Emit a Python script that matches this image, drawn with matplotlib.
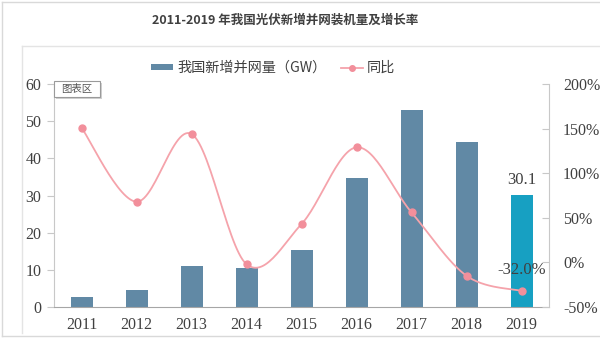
import numpy as np
import matplotlib
matplotlib.use("Agg")
import matplotlib.pyplot as plt
from matplotlib.lines import Line2D
from matplotlib.patches import Rectangle, Patch
from matplotlib.ticker import FuncFormatter, MultipleLocator

plt.rcParams['font.family'] = ['Noto Sans CJK SC', 'DejaVu Sans']

# ---- data ----
years = ['2011', '2012', '2013', '2014', '2015', '2016', '2017', '2018', '2019']
capacity_gw = [2.7, 4.7, 11.0, 10.6, 15.3, 34.6, 53.1, 44.4, 30.1]
yoy_pct = [151, 68, 144, -2, 43, 129, 56, -15, -32.0]

title = '2011-2019 年我国光伏新增并网装机量及增长率'
bar_label = '我国新增并网量（GW）'
line_label = '同比'

bar_color = '#6189a5'
last_bar_color = '#17a0c2'
line_color = '#f5a3ab'
marker_color = '#f28f9b'
text_color = '#404040'
serif = ['Liberation Serif', 'DejaVu Serif']

W, H = 600, 339
fig = plt.figure(figsize=(W / 100, H / 100), dpi=100)
fig.patch.set_facecolor('white')

# frame lines of the chart area
def fline(x0, y0, x1, y1, c='#d9d9d9', lw=1.0):
    fig.add_artist(Line2D([x0 / W, x1 / W], [1 - y0 / H, 1 - y1 / H],
                          color=c, lw=lw, transform=fig.transFigure))

fline(2, 2, 600, 2)
fline(2, 2, 2, 336)
fline(2, 336, 600, 336)
fline(22, 46, 600, 46, c='#e4e4e4')
fline(22, 46, 22, 333, c='#e4e4e4')

fig.text(285 / W, 1 - 20 / H, title, ha='center', va='center',
         fontsize=9, color=text_color, fontweight='bold')

ax = fig.add_axes([54 / W, 1 - 307 / H, (549 - 54) / W, (307 - 84) / H])
ax.set_facecolor('none')
x = np.arange(len(years))
colors = [bar_color] * (len(years) - 1) + [last_bar_color]
ax.bar(x, capacity_gw, width=0.4, color=colors, zorder=2)
ax.set_xlim(-0.5, len(years) - 0.5)
ax.set_ylim(0, 60)
ax.yaxis.set_major_locator(MultipleLocator(10))
ax.set_xticks(x)
ax.set_xticklabels(years)
for s in ['top', 'right']:
    ax.spines[s].set_visible(False)
ax.spines['left'].set_color('#c8c8c8')
ax.spines['bottom'].set_color('#a6a6a6')
ax.tick_params(axis='y', direction='out', length=5, color='#c8c8c8',
               labelsize=11.5, labelcolor=text_color, pad=4)
ax.tick_params(axis='x', length=0, labelsize=11.5, labelcolor=text_color, pad=7)
for lab in ax.get_xticklabels() + ax.get_yticklabels():
    lab.set_family(serif)

ax.text(x[-1], capacity_gw[-1] + 2.0, f'{capacity_gw[-1]:.1f}', ha='center',
        va='bottom', fontsize=12, color=text_color, family=serif)

# growth rate on the secondary axis, drawn as a smoothed curve
ax2 = ax.twinx()
ax2.set_ylim(-50, 200)
ax2.yaxis.set_major_locator(MultipleLocator(50))
ax2.yaxis.set_major_formatter(FuncFormatter(lambda v, p: f'{v:.0f}%'))
for s in ['top', 'left', 'bottom']:
    ax2.spines[s].set_visible(False)
ax2.spines['right'].set_color('#c8c8c8')
ax2.tick_params(axis='y', direction='in', length=5, color='#c8c8c8',
                labelsize=11.5, labelcolor=text_color, pad=10)
for lab in ax2.get_yticklabels():
    lab.set_family(serif)

sx, sy = 54.7, 223 / 250.0  # pixel scale per unit on each axis
px = x * sx
py = np.array(yoy_pct) * sy
P = np.column_stack([px, py])
Pp = np.vstack([P[0], P, P[-1]])
curve = []
t = np.linspace(0, 1, 30)
for i in range(len(P) - 1):
    p0, p1, p2, p3 = Pp[i], Pp[i + 1], Pp[i + 2], Pp[i + 3]
    c1 = p1 + (p2 - p0) / 6
    c2 = p2 - (p3 - p1) / 6
    seg = ((1 - t) ** 3)[:, None] * p1 + (3 * (1 - t) ** 2 * t)[:, None] * c1 \
        + (3 * (1 - t) * t ** 2)[:, None] * c2 + (t ** 3)[:, None] * p2
    curve.append(seg)
curve = np.vstack(curve)
ax2.plot(curve[:, 0] / sx, curve[:, 1] / sy, color=line_color, lw=1.3, zorder=3)
ax2.plot(x, yoy_pct, ls='none', marker='o', ms=5, color=marker_color, zorder=4)
ax2.text(x[-1], yoy_pct[-1] + 14, f'{yoy_pct[-1]:.1f}%', ha='center',
         va='bottom', fontsize=12, color=text_color, family=serif)

# legend
handles = [Patch(facecolor=bar_color, edgecolor='none'),
           Line2D([0], [0], color=line_color, lw=1.3, marker='o', ms=4,
                  markerfacecolor=marker_color, markeredgecolor=marker_color)]
fig.legend(handles, [bar_label, line_label], loc='center',
           bbox_to_anchor=(273 / W, 1 - 68 / H), ncol=2, frameon=False,
           fontsize=10.2, handlelength=1.55, handleheight=0.35,
           columnspacing=1.0, handletextpad=0.3, labelcolor=text_color)

# "图表区" tag in the top-left corner of the plot
fig.add_artist(Rectangle((56 / W, 1 - 99 / H), 46 / W, 16 / H,
                         transform=fig.transFigure, facecolor='#d0d0d0',
                         edgecolor='none'))
fig.add_artist(Rectangle((54 / W, 1 - 97 / H), 46 / W, 16 / H,
                         transform=fig.transFigure, facecolor='white',
                         edgecolor='#9a9a9a', lw=0.8))
fig.text(77 / W, 1 - 89 / H, '图表区', ha='center', va='center',
         fontsize=7.5, color='#555555')

fig.savefig('out.png', dpi=100)
